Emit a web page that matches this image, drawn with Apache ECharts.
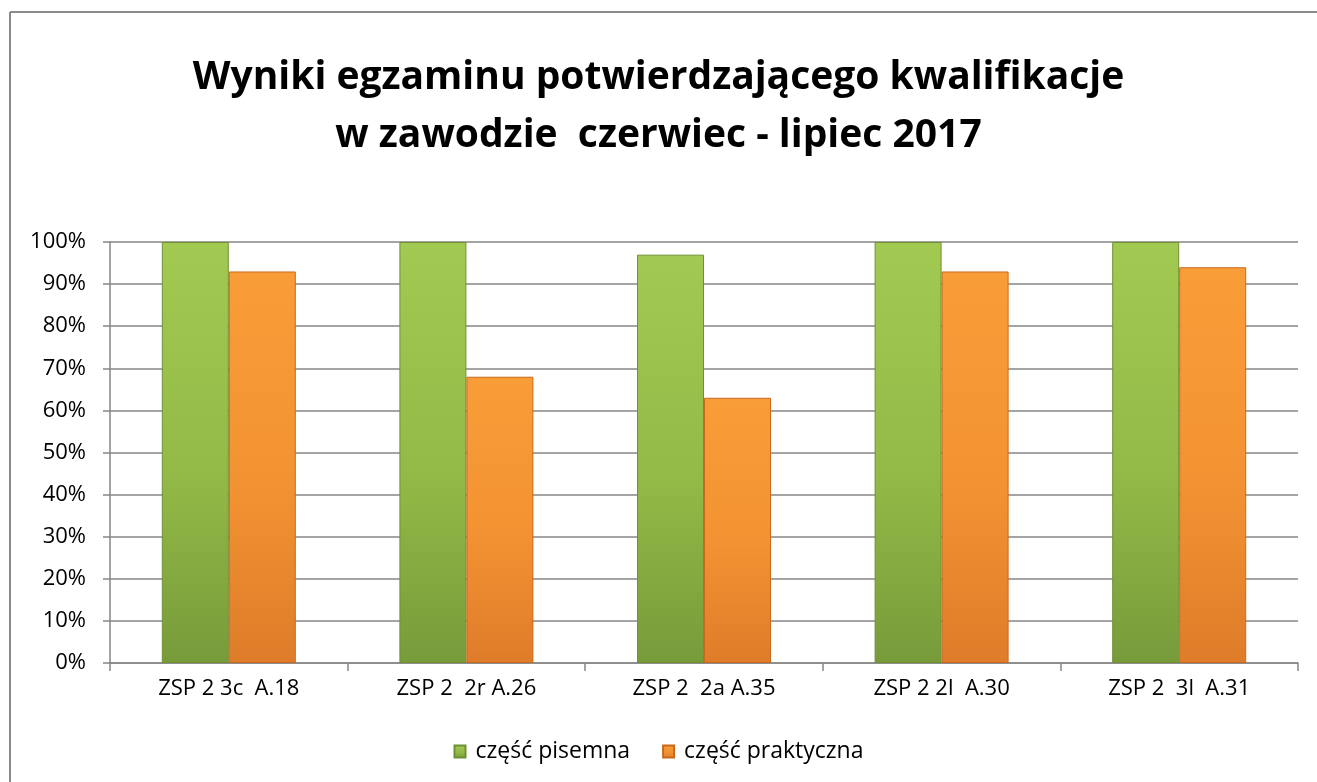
<!DOCTYPE html>
<html><head><meta charset="utf-8">
<script src="https://cdn.jsdelivr.net/npm/echarts@6/dist/echarts.min.js"></script>
<style>html,body{margin:0;padding:0;background:#fff}#c{width:1317px;height:782px}</style>
</head><body><div id="c"></div>
<script>
const categories = ['ZSP 2 3c  A.18', 'ZSP 2  2r A.26', 'ZSP 2  2a A.35', 'ZSP 2 2l  A.30', 'ZSP 2  3l  A.31'];
const seriesNames = ['część pisemna', 'część praktyczna'];
const pisemna = [100, 100, 97, 100, 100];
const praktyczna = [93, 68, 63, 93, 94];
const yTicks = [0, 10, 20, 30, 40, 50, 60, 70, 80, 90, 100];

const chart = echarts.init(document.getElementById('c'));
const F = '"Open Sans", Lato, sans-serif';
function grad(top, mid, bot){
  return new echarts.graphic.LinearGradient(0,0,0,1,[{offset:0,color:top},{offset:0.55,color:mid},{offset:1,color:bot}]);
}
chart.setOption({
  animation:false,
  backgroundColor:'#fff',
  graphic:[
    {type:'line',shape:{x1:10,y1:12,x2:1317,y2:12},style:{stroke:'#8a8a8a',lineWidth:2},silent:true},
    {type:'line',shape:{x1:10,y1:12,x2:10,y2:782},style:{stroke:'#8a8a8a',lineWidth:2},silent:true}
  ],
  title:{
    text:'Wyniki egzaminu potwierdzającego kwalifikacje\nw zawodzie  czerwiec - lipiec 2017',
    left:'center', top:44,
    textStyle:{fontFamily:F,fontWeight:'bold',fontSize:39,lineHeight:58,color:'#000'}
  },
  legend:{
    data:seriesNames, bottom:14, left:'center',
    itemWidth:11,itemHeight:12,itemGap:32,
    textStyle:{fontFamily:F,fontSize:23,color:'#000',padding:[0,0,0,5]},
    icon:'rect'
  },
  grid:{left:110,right:19,top:242,bottom:119},
  xAxis:{
    type:'category', data:categories,
    axisLine:{lineStyle:{color:'#868686',width:1.5}},
    axisTick:{show:true,length:8,lineStyle:{color:'#868686',width:1.5}},
    axisLabel:{fontFamily:F,fontSize:22,color:'#000',margin:15}
  },
  yAxis:{
    type:'value', min:0, max:100, interval:10,
    axisLine:{show:true,lineStyle:{color:'#868686',width:1.5}},
    axisTick:{show:true,length:7,inside:false,lineStyle:{color:'#868686',width:1.5}},
    splitLine:{lineStyle:{color:'#868686',width:1.5}},
    axisLabel:{fontFamily:F,fontSize:22,color:'#000',margin:24,formatter:v=>v+'%'}
  },
  series:[
    {name:seriesNames[0],type:'bar',data:pisemna,barWidth:67,barGap:'0%',
     itemStyle:{color:grad('#a2c951','#93ba47','#779b3a'),borderColor:'#6f9134',borderWidth:1}},
    {name:seriesNames[1],type:'bar',data:praktyczna,barWidth:67,barGap:'0%',
     itemStyle:{color:grad('#f99d38','#f39232','#df7c2a'),borderColor:'#c9691d',borderWidth:1}}
  ]
});
</script></body></html>
